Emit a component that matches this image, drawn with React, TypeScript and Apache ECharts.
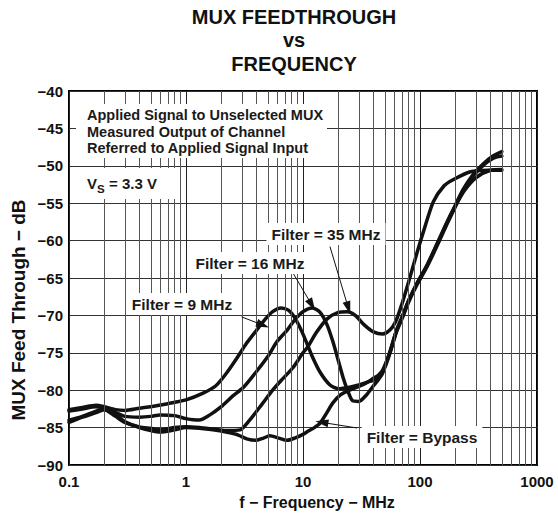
import React, { useEffect, useRef } from "react";
import * as echarts from "echarts";

const FONT = "'Liberation Sans', Arial, Helvetica, sans-serif";

// Filter = 9 MHz
const f9 = [0.1, 0.13, 0.17, 0.2, 0.25, 0.3, 0.4, 0.5, 0.7, 1.0, 1.4, 1.8, 2.2, 2.7, 3.3, 4.0, 4.7, 5.5, 6.5, 7.5, 8.5, 10, 12, 14, 17, 20, 25, 30, 36, 42, 48, 55, 63, 70, 80, 95, 114, 140, 169, 200, 233, 280, 350, 420, 500];
const d9 = [-82.6, -82.3, -82.0, -82.2, -82.6, -82.7, -82.4, -82.2, -81.8, -81.3, -80.4, -79.4, -77.8, -75.8, -73.7, -72.0, -70.6, -69.5, -69.0, -69.3, -70.3, -72.5, -75.5, -77.6, -79.3, -79.8, -79.6, -79.3, -78.9, -78.5, -77.5, -75.0, -72.0, -70.3, -68.0, -65.6, -63.4, -60.5, -57.7, -55.3, -53.2, -51.3, -49.7, -48.7, -48.1];

// Filter = 16 MHz
const f16 = [0.1, 0.13, 0.17, 0.2, 0.25, 0.3, 0.4, 0.5, 0.6, 0.8, 1.0, 1.3, 1.6, 2.0, 2.5, 3.1, 4.0, 5.0, 6.0, 7.3, 8.5, 10, 12, 14, 16, 18, 20, 22, 24, 26.5, 30, 35, 40, 44, 48, 55, 63, 70, 80, 95, 114, 140, 169, 200, 233, 280, 350, 420, 500];
const d16 = [-84.3, -83.6, -83.0, -82.6, -83.0, -83.5, -83.6, -83.5, -83.3, -83.4, -83.8, -84.0, -83.3, -82.2, -80.8, -79.6, -77.5, -75.5, -73.5, -72.0, -70.6, -69.5, -69.0, -69.6, -71.2, -73.5, -76.0, -78.3, -80.0, -81.4, -81.5, -80.6, -79.4, -78.6, -77.7, -75.2, -72.2, -70.5, -68.2, -65.8, -63.6, -60.7, -57.9, -55.5, -53.4, -51.5, -49.9, -49.0, -48.7];

// Filter = 35 MHz
const f35 = [0.1, 0.13, 0.17, 0.2, 0.25, 0.3, 0.4, 0.5, 0.6, 0.8, 1.0, 1.3, 1.7, 2.2, 2.9, 3.5, 4.5, 5.5, 6.5, 8.2, 10, 11, 13, 16, 20, 24, 28, 33, 40, 48, 55, 62, 70, 80, 94, 110, 130, 160, 190, 270, 380, 500];
const d35 = [-82.8, -82.5, -82.2, -82.5, -83.5, -84.3, -84.9, -85.1, -85.3, -85.0, -84.9, -85.0, -85.2, -85.4, -85.3, -84.0, -81.8, -80.0, -78.7, -77.0, -75.0, -74.2, -72.3, -70.5, -69.6, -69.5, -70.0, -71.2, -72.2, -72.5, -72.0, -70.8, -68.5, -65.5, -61.7, -58.2, -54.8, -52.7, -51.9, -50.8, -50.6, -50.6];

// Filter = Bypass
const fBy = [0.1, 0.13, 0.17, 0.2, 0.25, 0.3, 0.4, 0.5, 0.6, 0.8, 1.0, 1.3, 1.7, 2.2, 2.8, 3.3, 4.0, 4.6, 5.2, 6.2, 7.3, 8.5, 10, 11, 12.5, 14, 16, 18, 21, 25, 30, 35, 40, 44, 48, 55, 63, 70, 80, 95, 114, 140, 169, 200, 240, 300, 400, 500];
const dBy = [-84.0, -83.5, -82.8, -82.5, -83.2, -84.2, -85.0, -85.4, -85.6, -85.3, -85.0, -85.1, -85.3, -85.6, -86.0, -86.5, -86.7, -86.4, -86.1, -86.4, -86.7, -86.4, -85.9, -85.5, -85.0, -84.4, -83.0, -81.7, -80.6, -80.0, -79.5, -79.0, -78.4, -78.0, -77.3, -75.0, -72.0, -70.3, -68.0, -65.6, -63.4, -60.4, -57.6, -55.4, -53.3, -51.6, -50.6, -50.5];

// Axis
const xMin = 0.1;
const xMax = 1000;
const yMin = -90;
const yMax = -40;
const yStep = 5;
const decades = [0.1, 1, 10, 100];
const minorMultipliers = [2, 3, 4, 5, 6, 7, 8, 9];

// Arrows: [fromFreq, fromDb, toFreq, toDb]
const arrow9 = [2.99, -70.2, 4.54, -71.3];
const arrow16 = [8.26, -64.4, 11.9, -68.6];
const arrow35 = [17.0, -60.8, 24.4, -69.0];
const arrowBy = [28.9, -85.05, 14.5, -84.3];

const App = () => {
  const ref = useRef<HTMLDivElement>(null);
  useEffect(() => {
    const chart = echarts.init(ref.current!, undefined, { renderer: "svg" });
    const pairs = (f: number[], d: number[]) => f.map((x, i) => [x, d[i]]);
    const minorLines: { xAxis: number }[] = [];
    decades.forEach((d) => minorMultipliers.forEach((m) => minorLines.push({ xAxis: +(d * m).toPrecision(3) })));
    const curve = (name: string, f: number[], d: number[]) => ({
      name,
      type: "line",
      data: pairs(f, d),
      showSymbol: false,
      smooth: 0.25,
      z: 3,
      lineStyle: { color: "#111", width: 3.5, cap: "round", join: "round" },
      silent: true,
    });
    const arr = (a: number[]) => [
      { coord: [a[0], a[1]] },
      { coord: [a[2], a[3]] },
    ];
    const label = (text: string, x: number, y: number) => ({
      type: "text",
      x,
      y,
      z: 20,
      style: {
        text,
        fontFamily: FONT,
        fontWeight: "bold",
        fontSize: 15.5,
        fill: "#1a1a1a",
        align: "center",
        verticalAlign: "middle",
        backgroundColor: "#fff",
        padding: [3, 5],
      },
    });
    const titleText = (text: string, y: number) => ({
      type: "text",
      x: 294,
      y,
      style: {
        text,
        fontFamily: FONT,
        fontWeight: "bold",
        fontSize: 20,
        fill: "#111",
        align: "center",
        verticalAlign: "middle",
      },
    });
    const option = {
      animation: false,
      backgroundColor: "#fff",
      grid: {
        left: 69,
        right: 21,
        top: 91,
        bottom: 50,
        show: true,
        borderColor: "#000",
        borderWidth: 2,
        backgroundColor: "transparent",
      },
      xAxis: {
        type: "log",
        logBase: 10,
        min: xMin,
        max: xMax,
        axisLine: { show: false },
        axisTick: { show: false },
        splitLine: { show: true, lineStyle: { color: "#222", width: 1 } },
        axisLabel: {
          margin: 9,
          fontFamily: FONT,
          fontWeight: "bold",
          fontSize: 15,
          color: "#111",
          formatter: (v: number) => (v >= 1 ? String(Math.round(v)) : v.toFixed(1)),
        },
      },
      yAxis: {
        type: "value",
        min: yMin,
        max: yMax,
        interval: yStep,
        axisLine: { show: false },
        axisTick: { show: false },
        splitLine: { show: true, lineStyle: { color: "#333", width: 1 } },
        axisLabel: {
          margin: 6,
          fontFamily: FONT,
          fontWeight: "bold",
          fontSize: 15,
          color: "#111",
          formatter: (v: number) => String(v).replace("-", "−"),
        },
      },
      series: [
        {
          name: "grid",
          type: "line",
          data: [[xMin, yMin]],
          showSymbol: false,
          lineStyle: { opacity: 0 },
          silent: true,
          z: 1,
          markLine: {
            silent: true,
            symbol: "none",
            animation: false,
            label: { show: false },
            lineStyle: { color: "#555", width: 1, type: "solid" },
            data: minorLines,
          },
        },
        curve("Filter = 9 MHz", f9, d9),
        curve("Filter = 16 MHz", f16, d16),
        curve("Filter = 35 MHz", f35, d35),
        curve("Filter = Bypass", fBy, dBy),
        {
          name: "arrows",
          type: "line",
          data: [[xMin, yMin]],
          showSymbol: false,
          lineStyle: { opacity: 0 },
          silent: true,
          z: 5,
          markLine: {
            silent: true,
            animation: false,
            symbol: ["none", "triangle"],
            symbolSize: [8, 13],
            label: { show: false },
            lineStyle: { color: "#111", width: 1, type: "solid" },
            itemStyle: { color: "#111" },
            data: [arr(arrow9), arr(arrow16), arr(arrow35), arr(arrowBy)],
          },
        },
      ],
      graphic: [
        titleText("MUX FEEDTHROUGH", 17),
        titleText("vs", 40),
        titleText("FREQUENCY", 64),
        {
          type: "text",
          x: 18,
          y: 310,
          rotation: Math.PI / 2,
          style: {
            text: "MUX Feed Through − dB",
            fontFamily: FONT,
            fontWeight: "bold",
            fontSize: 19,
            fill: "#111",
            align: "center",
            verticalAlign: "middle",
          },
        },
        {
          type: "text",
          x: 317,
          y: 502,
          style: {
            text: "f − Frequency − MHz",
            fontFamily: FONT,
            fontWeight: "bold",
            fontSize: 16,
            fill: "#111",
            align: "center",
            verticalAlign: "middle",
          },
        },
        { type: "rect", z: 19, shape: { x: 76, y: 104, width: 251, height: 54 }, style: { fill: "#fff" } },
        {
          type: "text",
          x: 87,
          y: 107,
          z: 20,
          style: {
            text: "Applied Signal to Unselected MUX\nMeasured Output of Channel\nReferred to Applied Signal Input",
            fontFamily: FONT,
            fontWeight: "bold",
            fontSize: 14.5,
            lineHeight: 16.5,
            fill: "#1a1a1a",
            align: "left",
            verticalAlign: "top",
          },
        },
        { type: "rect", z: 19, shape: { x: 76, y: 168, width: 100, height: 31 }, style: { fill: "#fff" } },
        { type: "text", x: 87, y: 183, z: 20, style: { text: "V", fontFamily: FONT, fontWeight: "bold", fontSize: 15, fill: "#1a1a1a", align: "left", verticalAlign: "middle" } },
        { type: "text", x: 97, y: 189, z: 20, style: { text: "S", fontFamily: FONT, fontWeight: "bold", fontSize: 11.5, fill: "#1a1a1a", align: "left", verticalAlign: "middle" } },
        { type: "text", x: 109, y: 183, z: 20, style: { text: "= 3.3 V", fontFamily: FONT, fontWeight: "bold", fontSize: 15, fill: "#1a1a1a", align: "left", verticalAlign: "middle" } },
        label("Filter = 35 MHz", 326, 234),
        label("Filter = 16 MHz", 250, 263),
        label("Filter = 9 MHz", 182, 304),
        label("Filter = Bypass", 422, 437),
      ],
    };
    chart.setOption(option as any);
    return () => chart.dispose();
  }, []);
  return <div ref={ref} style={{ position: "absolute", left: 0, top: 0, width: 558, height: 515 }} />;
};

export default App;
